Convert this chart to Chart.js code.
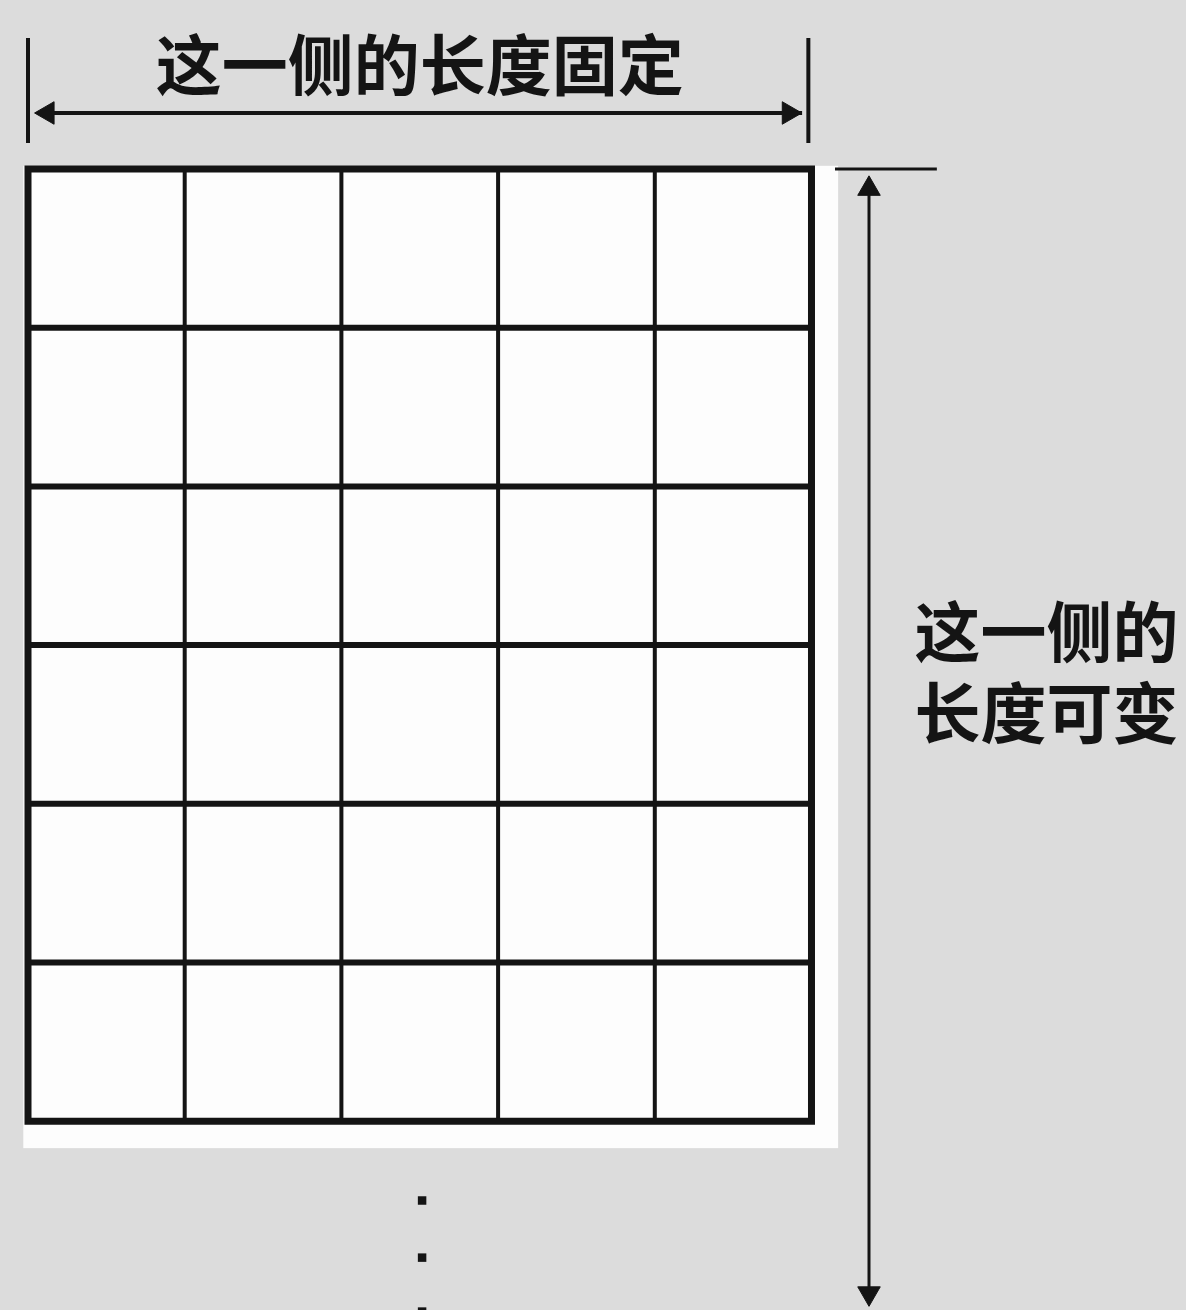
<!DOCTYPE html>
<html lang="zh">
<head>
<meta charset="utf-8">
<title>固定一侧长度的网格</title>
<script src="https://cdn.jsdelivr.net/npm/chart.js@4.4.1/dist/chart.umd.min.js"></script>
<style>
    html, body { margin: 0; padding: 0; background: #dcdcdc; }
    #grid-chart { display: block; }
</style>
</head>
<body>
<canvas id="grid-chart" width="1186" height="1310"></canvas>
<script>
// Diagram units: one unit = one cell (5 fixed columns, 6 rows shown)
const columnEdges = [0, 1, 2, 3, 4, 5];
const rowEdges = [0, 1, 2, 3, 4, 5, 6];

// Labels
const topLabel = '这一侧的长度固定';
const sideLabel = ['这一侧的', '长度可变'];
const topLabelAt = { x: 2.5, y: -0.655 };
const sideLabelAt = { x: 6.5, y: [2.92, 3.43] };

// Width dimension (top)
const topTicksX = [0, 4.98];
const topTicksY = [-0.825, -0.164];
const topArrowY = -0.353;
const topArrowX = [0.06, 4.94];
const topHeadsX = [0.125, 4.855];

// Height dimension (right)
const sideTickX = [5.15, 5.8];
const sideArrowX = 5.367;
const sideArrowY = [0.06, 7.15];
const sideHeadsY = [0.125, 7.085];

// "more rows" dots under the grid
const dotsX = 2.515;
const dotsY = [6.5, 6.86, 7.2];

// white paper under the grid
const paperBox = { x: [-0.03, 5.17], y: [-0.02, 6.17] };

const INK = '#141414';

function segment(points, width, extra) {
    return Object.assign({
        data: points,
        showLine: true,
        borderColor: INK,
        borderWidth: width,
        pointRadius: 0,
        tension: 0,
        fill: false
    }, extra || {});
}

const datasets = [];

// outer border as one closed path
const maxCol = columnEdges[columnEdges.length - 1];
const maxRow = rowEdges[rowEdges.length - 1];
datasets.push(segment([
    { x: 0, y: 0 }, { x: maxCol, y: 0 }, { x: maxCol, y: maxRow }, { x: 0, y: maxRow }, { x: 0, y: 0 }
], 7, { borderJoinStyle: 'miter', borderCapStyle: 'square' }));

// inner column lines (thin) and row lines (thicker)
columnEdges.slice(1, -1).forEach(c => {
    datasets.push(segment([{ x: c, y: 0 }, { x: c, y: maxRow }], 4));
});
rowEdges.slice(1, -1).forEach(r => {
    datasets.push(segment([{ x: 0, y: r }, { x: maxCol, y: r }], 6));
});

// top dimension: two ticks + double arrow
topTicksX.forEach(tx => {
    datasets.push(segment([{ x: tx, y: topTicksY[0] }, { x: tx, y: topTicksY[1] }], 4));
});
datasets.push(segment([{ x: topArrowX[0], y: topArrowY }, { x: topArrowX[1], y: topArrowY }], 4));
datasets.push({
    data: topHeadsX.map(hx => ({ x: hx, y: topArrowY })),
    showLine: false,
    pointStyle: 'triangle',
    pointRadius: 13,
    rotation: [-90, 90],
    pointBackgroundColor: INK,
    pointBorderColor: INK,
    pointBorderWidth: 1
});

// right dimension: tick + double arrow
datasets.push(segment([{ x: sideTickX[0], y: 0 }, { x: sideTickX[1], y: 0 }], 3));
datasets.push(segment([{ x: sideArrowX, y: sideArrowY[0] }, { x: sideArrowX, y: sideArrowY[1] }], 3));
datasets.push({
    data: sideHeadsY.map(hy => ({ x: sideArrowX, y: hy })),
    showLine: false,
    pointStyle: 'triangle',
    pointRadius: 13,
    rotation: [0, 180],
    pointBackgroundColor: INK,
    pointBorderColor: INK,
    pointBorderWidth: 1
});

// continuation dots
datasets.push({
    data: dotsY.map(dy => ({ x: dotsX, y: dy })),
    showLine: false,
    pointStyle: 'rect',
    pointRadius: 6,
    pointBackgroundColor: INK,
    pointBorderColor: INK,
    pointBorderWidth: 0,
    clip: false
});

// paper backdrop and text labels, placed through the scales
const diagramPlugin = {
    id: 'diagram',
    beforeDatasetsDraw(chart) {
        const { ctx, scales: { x, y } } = chart;
        const left = x.getPixelForValue(paperBox.x[0]);
        const right = x.getPixelForValue(paperBox.x[1]);
        const top = y.getPixelForValue(paperBox.y[0]);
        const bottom = y.getPixelForValue(paperBox.y[1]);
        ctx.save();
        ctx.fillStyle = '#fdfdfd';
        ctx.fillRect(left, top, right - left, bottom - top);
        ctx.restore();
    },
    afterDatasetsDraw(chart) {
        const { ctx, scales: { x, y } } = chart;
        ctx.save();
        ctx.fillStyle = INK;
        ctx.textAlign = 'center';
        ctx.textBaseline = 'middle';
        ctx.font = 'bold 66px "Noto Sans CJK SC", sans-serif';
        ctx.fillText(topLabel, x.getPixelForValue(topLabelAt.x), y.getPixelForValue(topLabelAt.y));
        sideLabel.forEach((line, i) => {
            ctx.fillText(line, x.getPixelForValue(sideLabelAt.x), y.getPixelForValue(sideLabelAt.y[i]));
        });
        ctx.restore();
    }
};

const ctx = document.getElementById('grid-chart').getContext('2d');
const gridChart = new Chart(ctx, {
    type: 'scatter',
    data: { datasets: datasets },
    options: {
        responsive: false,
        animation: false,
        devicePixelRatio: 1,
        layout: { padding: 0, autoPadding: false },
        plugins: {
            legend: { display: false },
            tooltip: { enabled: false }
        },
        scales: {
            x: { type: 'linear', min: -0.1787, max: 7.39, display: false },
            y: { type: 'linear', min: -1.065, max: 7.19, reverse: true, display: false }
        }
    },
    plugins: [diagramPlugin]
});
</script>
</body>
</html>
